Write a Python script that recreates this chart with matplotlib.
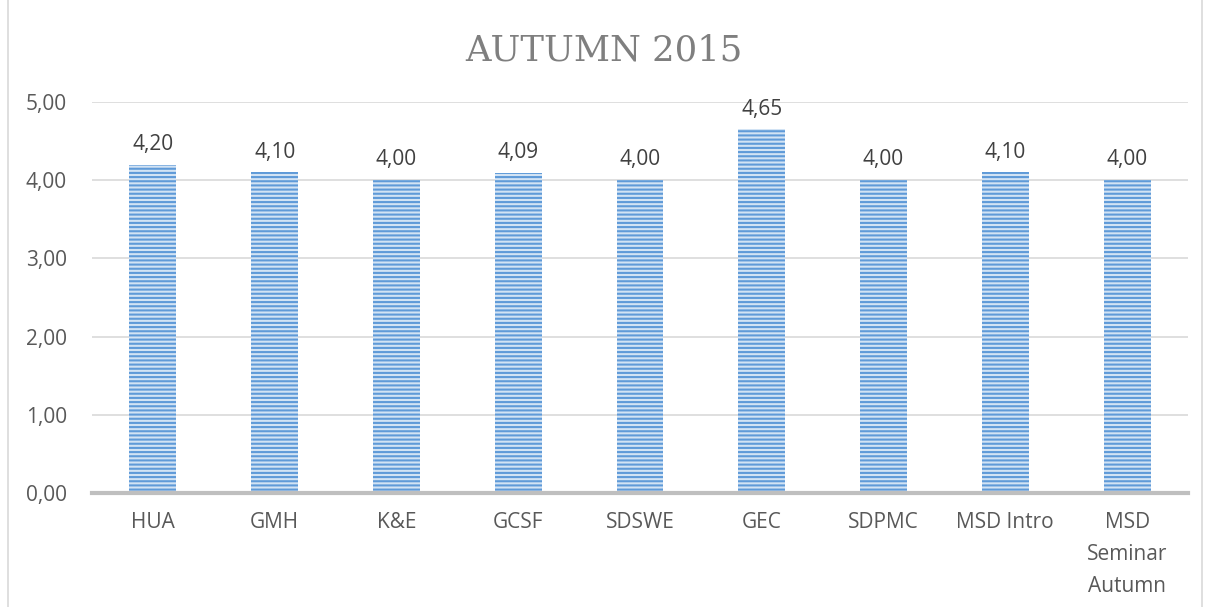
import matplotlib.pyplot as plt
import numpy as np

plt.rcParams["hatch.linewidth"] = 1.5

courses = ["HUA", "GMH", "K&E", "GCSF", "SDSWE", "GEC", "SDPMC", "MSD Intro",
           "MSD\nSeminar\nAutumn"]
scores = [4.20, 4.10, 4.00, 4.09, 4.00, 4.65, 4.00, 4.10, 4.00]
yticks = [0, 1, 2, 3, 4, 5]

fig = plt.figure(figsize=(12.08, 6.07), dpi=100)
ax = fig.add_axes([0.0762, 0.1878, 0.9072, 0.6442])

x = np.arange(len(courses))
bars = ax.bar(x, scores, width=0.385, color="#d2e3f4", edgecolor="#5f9ad8",
              linewidth=0, hatch="----", zorder=3)

ax.bar_label(bars, labels=[f"{v:.2f}".replace(".", ",") for v in scores],
             padding=7, fontsize=15, color="#404040", family="Open Sans")

ax.set_xlim(-0.5, len(courses) - 0.5)
ax.set_ylim(0, 5)
ax.set_yticks(yticks)
ax.set_yticklabels([f"{v:.2f}".replace(".", ",") for v in yticks],
                   fontsize=15, color="#595959", family="Open Sans")
ax.set_xticks(x)
ax.set_xticklabels(courses, fontsize=15, color="#595959", family="Open Sans",
                   linespacing=1.68, va="top")
ax.tick_params(length=0)
ax.tick_params(axis="x", pad=14)
ax.tick_params(axis="y", pad=18)

ax.grid(axis="y", color="#d9d9d9", linewidth=1.2, zorder=0)
for s in ["top", "right", "left"]:
    ax.spines[s].set_visible(False)
ax.spines["bottom"].set_color("#bfbfbf")
ax.spines["bottom"].set_linewidth(3)
ax.spines["bottom"].set_zorder(4)

fig.text(0.5, 0.917, "AUTUMN 2015", ha="center", va="center", fontsize=25.5,
         color="#7f7f7f", family="DejaVu Serif")

# chart border
fig.add_artist(plt.Rectangle((0.007, -0.01), 0.988, 1.02, transform=fig.transFigure,
                             fill=False, edgecolor="#d9d9d9", linewidth=1.2))

fig.savefig("out.png", dpi=100)
